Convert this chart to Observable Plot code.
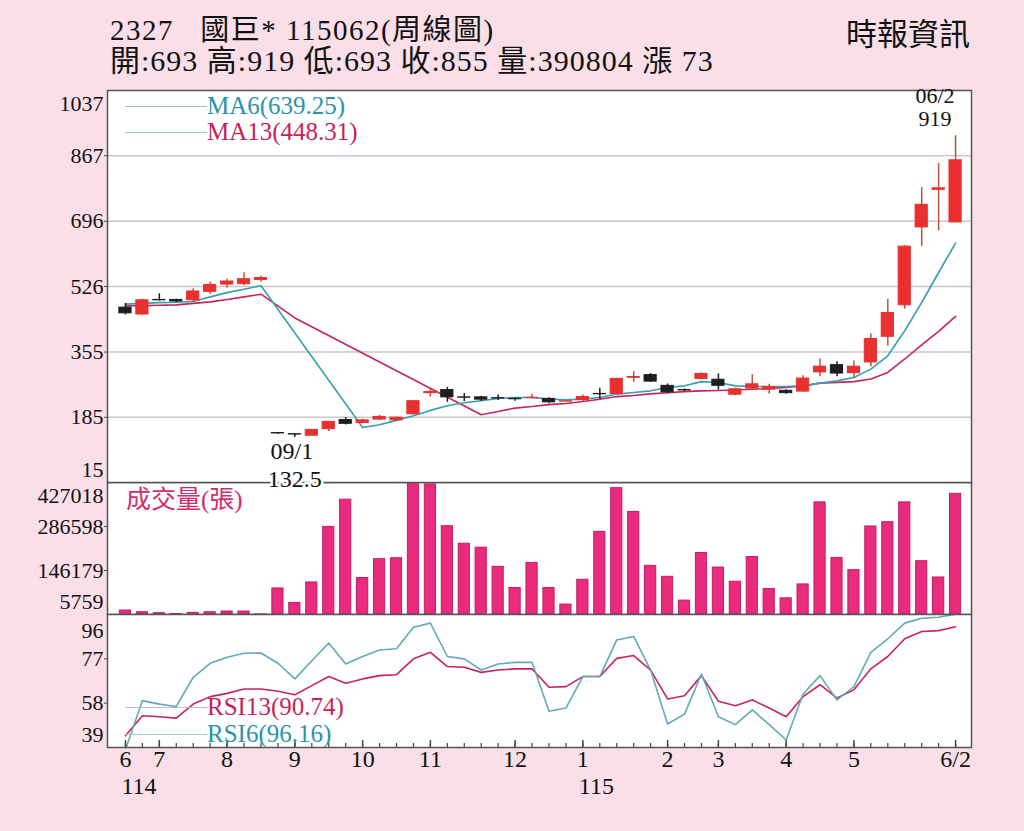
<!DOCTYPE html>
<html><head><meta charset="utf-8">
<script src="https://cdn.jsdelivr.net/npm/d3@7"></script>
<script src="https://cdn.jsdelivr.net/npm/@observablehq/plot@0.6"></script>
<style>
html,body{margin:0;padding:0;background:#fadee8;}
#wrap{position:relative;width:1024px;height:831px;overflow:hidden;font-family:"Liberation Serif","Noto Sans CJK TC",serif;color:#111;}
.abs{position:absolute;white-space:nowrap;}
#wrap svg{overflow:visible;position:absolute;left:0;}
.lg{position:absolute;height:0;}
</style></head><body><div id="wrap"></div>
<script>
// ---- data (weekly, 114/06 .. 115/06/2) ----
const weeks = d3.range(50);
const open  = [471,453,491,491,490,512,531,532,543,144,141,137,154,178,170,179,177,193,248,256,237,237,235,233,235,233,226,230,246,246,288,295,267,256,285,283,244,260,257,254,252,302,321,300,328,395,477,680,778,693];
const high  = [482,493,507,493,520,538,545,562,553,145,142,153,175,184,180,190,186,229,261,263,247,240,243,236,245,236,229,243,261,287,304,299,272,259,301,298,261,296,271,257,293,337,330,332,402,493,632,784,847,919];
const low   = [452,450,488,484,487,505,522,528,537,140,132.5,136,148,165,168,177,175,191,238,224,226,226,229,227,233,220,225,225,232,244,276,276,247,252,283,256,241,256,246,245,250,291,291,289,317,371,467,630,671,693];
const close = [456,490,490,487,513,530,539,545,548,143,140,152,173,168,177,186,184,227,251,237,236,231,234,232,236,224,227,238,245,285,290,278,250,255,298,267,258,271,264,248,286,317,299,317,389,457,630,739,782,855];
const ma6   = [480,482,484,485,487,499,510,519,528,null,null,null,null,null,158.4,165.4,177,189,203,215,223,228,234,236.6,236.6,232.4,230.6,232.4,236.6,245.5,249.6,254,262.7,267,278,275.7,267,265.3,265.3,265.3,267,274,280,288.7,310.6,345.3,410.5,484.3,562.5,639.25];
const ma13  = [476,476,477,478,482,486,492,499,506,null,444,null,null,null,null,null,null,null,null,null,null,191.5,200,209,213,218,221,226,232,239,242,246,249,252,254,255,256,258,260,263,267,274,276,278,285,302,337,374,409,448.31];
const volume= [18400,13000,9900,7000,11100,13000,15300,15300,6000,89000,42800,108000,285400,372200,122000,182200,185300,445000,421000,287600,231600,218900,157800,90300,170400,90300,37400,116600,269600,409000,333000,161000,126100,50100,202100,155600,110300,189400,87100,57400,101700,363600,186300,147300,286700,300300,363600,175800,123900,390804];
const rsi6  = [38,59.1,57.6,56.6,69.1,75.1,77.7,79.4,79.5,75.1,68.4,76.2,83.8,74.8,78,80.8,81.3,90.5,92.3,78,77,72.2,74.8,75.5,75.5,54.5,55.9,69.4,69.4,85.1,86.6,72.2,49.1,53.3,70.5,52.2,48.8,55.1,48.8,42.2,61.9,69.8,59.4,65.1,79.8,85.6,92.3,94.4,94.8,96.16];
const rsi13 = [44,52.6,52.2,51.6,57.6,60.8,62.2,64.1,64.1,63.1,61.6,65.5,69.4,66.5,68.4,69.8,70.2,77,79.8,73.7,73.4,71.2,72.2,72.7,72.7,64.8,65.1,69.4,69.4,77.2,78.4,72.2,59.8,61.2,69.8,58.8,56.9,59.4,55.9,52.2,60.8,65.9,60.2,63.7,72.7,78,85.6,88.7,89.1,90.74];
const priceTicks = [15,185,355,526,696,867,1037];
const volTicks = [5759,146179,286598,427018];
const rsiTicks = [39,58,77,96];
const monthIdx = [0,2,6,10,14,18,23,27,32,35,39,43,49];
const monthLabels = ["6","7","8","9","10","11","12","1","2","3","4","5","6/2"];
const yearIdx = [0,27];
const yearLabels = ["114","115"];
const hiMark = [{i:49, value:919, date:"06/2", label:"919"}];
const loMark = [{i:10, value:132.5, date:"09/1", label:"132.5"}];
const titleLine1 = "2327\u00a0\u00a0\u00a0國巨* 115062(周線圖)";
const titleLine2 = "開:693 高:919 低:693 收:855 量:390804 漲 73";
const brand = "時報資訊";
const maLegend = [{text:"MA6(639.25)", color:"#2b93a8"},{text:"MA13(448.31)", color:"#c81f5a"}];
const rsiLegend = [{text:"RSI13(90.74)", color:"#c81f5a", line:"#cdb3bd"},{text:"RSI6(96.16)", color:"#2b93a8", line:"#a9c6cb"}];
const volLabel = "成交量(張)";

// ---- styles ----
const UP = "#e8312f", DOWN = "#1e1e1e", WICKUP = "#b5553f";
const MA6C = "#3a9db2", MA13C = "#c8245a";
const FONT = "Liberation Serif, Noto Sans CJK TC, serif";
const xDomain = [-1.06, 49.94];
const common = {width:1024, marginLeft:107, marginRight:53, style:{background:"transparent", fontFamily:FONT, color:"#111"}};
const fmt = d => `${d}`;
const axisOpts = {tickSize:3, tickPadding:1, fontSize:22, tickFormat:fmt, stroke:"#444", label:null};
const edgeOpts = {tickSize:0, tickPadding:4, fontSize:22, tickFormat:fmt, label:null};
const isUp = i => close[i] >= open[i];

const wrap = document.getElementById("wrap");
function place(el, top, z){ el.style.top = top+"px"; el.style.zIndex = z; wrap.appendChild(el); }

// ---- price panel ----
const price = Plot.plot({
  ...common, height:398, marginTop:6, marginBottom:0,
  x:{type:"linear", domain:xDomain, axis:null},
  y:{domain:[priceTicks[0], priceTicks[priceTicks.length-1]], label:null},
  color:{type:"identity"},
  marks:[
    Plot.frame({fill:"white"}),
    Plot.gridY(priceTicks.slice(1,-1), {stroke:"#c9c9c9", strokeOpacity:1, strokeWidth:1.5}),
    Plot.axisY(priceTicks.slice(1,-1), axisOpts),
    Plot.axisY([priceTicks[priceTicks.length-1]], {...edgeOpts, dy:13}),
    Plot.axisY([priceTicks[0]], {...edgeOpts, dy:-13}),
    Plot.line(weeks.filter(i => ma13[i] != null), {x:i=>i, y:i=>ma13[i], stroke:MA13C, strokeWidth:1.6}),
    Plot.line(weeks.filter(i => ma6[i] != null), {x:i=>i, y:i=>ma6[i], stroke:MA6C, strokeWidth:1.6}),
    Plot.ruleX(weeks, {x:i=>i, y1:i=>low[i], y2:i=>high[i], stroke:i=>isUp(i)?WICKUP:DOWN, strokeWidth:1.5}),
    Plot.rect(weeks, {x1:i=>i-0.36, x2:i=>i+0.36, y1:i=>open[i], y2:i=>close[i], fill:i=>isUp(i)?UP:DOWN, stroke:i=>isUp(i)?UP:DOWN, strokeWidth:1}),
    Plot.frame({stroke:"#555", strokeWidth:1.5}),
    Plot.text(hiMark, {x:"i", y:"value", text:"date", textAnchor:"end", dx:-1, dy:-40, fontSize:22}),
    Plot.text(hiMark, {x:"i", y:"value", text:"label", textAnchor:"end", dx:-4, dy:-17, fontSize:22}),
    Plot.text(loMark, {x:"i", y:"value", text:"date", dx:-3, dy:14, fontSize:24}),
    Plot.text(loMark, {x:"i", y:"value", text:"label", dy:42, fontSize:24, stroke:"white", strokeWidth:5, fill:"#111"})
  ]
});
place(price, 84, 3);

// ---- volume panel ----
const vol = Plot.plot({
  ...common, height:132, marginTop:0, marginBottom:0,
  x:{type:"linear", domain:xDomain, axis:null},
  y:{domain:[volTicks[0], volTicks[volTicks.length-1]], label:null},
  marks:[
    Plot.frame({fill:"white"}),
    Plot.rect(weeks, {x1:i=>i-0.33, x2:i=>i+0.33, y1:volTicks[0], y2:i=>volume[i], fill:"#ea2a7c", stroke:"#c21f63", strokeWidth:1, clip:true}),
    Plot.axisY(volTicks.slice(1,-1), axisOpts),
    Plot.axisY([volTicks[volTicks.length-1]], {...edgeOpts, dy:13}),
    Plot.axisY([volTicks[0]], {...edgeOpts, dy:-13}),
    Plot.frame({stroke:"#555", strokeWidth:1.5})
  ]
});
place(vol, 482, 1);

// ---- RSI panel ----
const rsi = Plot.plot({
  ...common, height:217, marginTop:0, marginBottom:84,
  x:{type:"linear", domain:xDomain, axis:null},
  y:{domain:[rsiTicks[0], rsiTicks[rsiTicks.length-1]], label:null},
  marks:[
    Plot.frame({fill:"white"}),
    Plot.axisY(rsiTicks.slice(1,-1), axisOpts),
    Plot.axisY([rsiTicks[rsiTicks.length-1]], {...edgeOpts, dy:16}),
    Plot.axisY([rsiTicks[0]], {...edgeOpts, dy:-13}),
    Plot.line(weeks, {x:i=>i, y:i=>rsi13[i], stroke:MA13C, strokeWidth:1.6, clip:true}),
    Plot.line(weeks, {x:i=>i, y:i=>rsi6[i], stroke:"#62aab8", strokeWidth:1.6, clip:true}),
    Plot.tickX(weeks, {x:i=>i, insetTop:129, stroke:"#444", strokeWidth:1.2}),
    Plot.tickX(monthIdx, {x:d=>d, insetTop:126, stroke:"#444", strokeWidth:1.5}),
    Plot.frame({stroke:"#555", strokeWidth:1.5}),
    Plot.text(monthIdx, {x:d=>d, text:(d,i)=>monthLabels[i], frameAnchor:"bottom", dy:19, fontSize:24}),
    Plot.text(yearIdx, {x:d=>d, text:(d,i)=>yearLabels[i], frameAnchor:"bottom", dy:46, textAnchor:"start", dx:-4, fontSize:24})
  ]
});
place(rsi, 614, 1);

// ---- html text: title, legends ----
function addText(txt, css){ const d=document.createElement("div"); d.className="abs"; d.textContent=txt; Object.assign(d.style, css); d.style.zIndex=5; wrap.appendChild(d); return d; }
function addLine(left, top, width, color){ const d=document.createElement("div"); d.className="lg"; Object.assign(d.style,{left:left+"px", top:top+"px", width:width+"px", borderTop:`1.5px solid ${color}`, zIndex:4}); wrap.appendChild(d); }
addText(titleLine1, {left:"110px", top:"16px", fontSize:"29px", lineHeight:"29px", letterSpacing:"1.5px"});
addText(titleLine2, {left:"110px", top:"46px", fontSize:"30px", lineHeight:"29px", letterSpacing:"1px"});
addText(brand, {right:"54px", top:"19px", fontSize:"31px", lineHeight:"32px"});
maLegend.forEach((m,k) => { const cy = 106 + k*26; addLine(125, cy, 82, "#a9bfc6"); addText(m.text, {left:"207px", top:(cy-13)+"px", fontSize:"25px", lineHeight:"26px", color:m.color}); });
rsiLegend.forEach((m,k) => { const cy = 707 + k*27; addLine(125, cy, 82, m.line); addText(m.text, {left:"207px", top:(cy-13)+"px", fontSize:"25px", lineHeight:"26px", color:m.color}); });
addText(volLabel, {left:"126px", top:"487px", fontSize:"25px", lineHeight:"26px", color:"#d12c6c"});
</script></body></html>
